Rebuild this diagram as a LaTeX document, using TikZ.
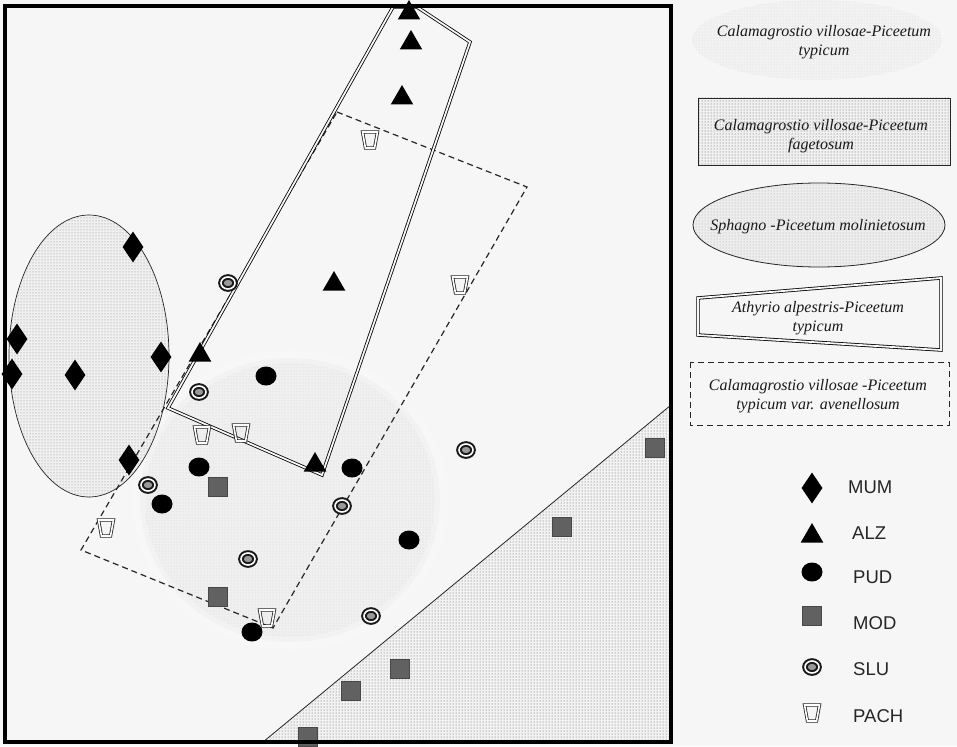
\documentclass[tikz,border=0pt]{standalone}
\usepackage{fontspec}
\setmainfont{Liberation Serif}
\newfontfamily\lsans{Liberation Sans}
\usetikzlibrary{shapes.geometric,patterns}
\definecolor{bg}{RGB}{246,246,246}
\begin{document}
\begin{tikzpicture}[x=1pt,y=-1pt,
  mum/.style={diamond,fill=black,inner sep=0pt,minimum width=21pt,minimum height=31pt},
  alz/.style={regular polygon,regular polygon sides=3,fill=black,inner sep=0pt,minimum size=26pt},
  pud/.style={ellipse,fill=black,inner sep=0pt,minimum width=21pt,minimum height=19pt},
  mod/.style={rectangle,fill=black!62,draw=black!72,line width=0.6pt,inner sep=0pt,minimum size=19pt},
  slu/.style={ellipse,draw=black!90,line width=2pt,double=white,double distance=1.6pt,fill=black!40,inner sep=0pt,minimum width=14pt,minimum height=12pt},
  pach/.style={trapezium,trapezium left angle=72,trapezium right angle=72,trapezium stretches=true,shape border rotate=180,draw=black!85,line width=0.8pt,double=white,double distance=1.6pt,inner sep=1pt,minimum width=15pt,minimum height=16pt},
  legtext/.style={font=\fontsize{16}{19}\selectfont\itshape,align=center,inner sep=0pt,text=black!90},
  symtext/.style={font=\lsans\fontsize{18.5}{20}\selectfont,anchor=west,inner sep=0pt,text=black!85},
  dotfill/.style={pattern=dots,pattern color=black!65},
  dbl/.style={draw=black,line width=0.8pt,double=bg,double distance=1.8pt},
  dsh/.style={draw=black!85,line width=1.2pt,dash pattern=on 6pt off 4pt},
]
% background
\fill[bg] (0,0) rectangle (957,746);
\useasboundingbox (0,0) rectangle (957,746);

% ---- plot regions ----
% Calamagrostio villosae-Piceetum typicum (diffuse)
\fill[black!3] (290,500) ellipse [x radius=158, y radius=150];
\fill[black!5] (290,500) ellipse [x radius=150, y radius=142];
\fill[black!6] (290,500) ellipse [x radius=145, y radius=137];
\fill[pattern=dots,pattern color=black!18] (290,500) ellipse [x radius=145, y radius=137];
% Sphagno ellipse
\fill[black!6] (89,356) ellipse [x radius=80, y radius=141];
\fill[pattern=dots,pattern color=black!50] (89,356) ellipse [x radius=80, y radius=141];
\draw[black!85,line width=0.7pt] (89,356) ellipse [x radius=80, y radius=141];
% fagetosum triangle
\fill[black!5] (263,742) -- (671,405) -- (671,742) -- cycle;
\fill[dotfill] (263,742) -- (671,405) -- (671,742) -- cycle;
\draw[black!85,line width=0.8pt] (263,742) -- (671,405);
% avenellosum dashed rectangle
\draw[dsh] (337,112) -- (527,187) -- (273,628) -- (81,550) -- cycle;
% Athyrio polygon
\draw[dbl] (393,7) -- (417,7) -- (470,42) -- (322,475) -- (168,408) -- cycle;

% ---- markers ----
\node[mum] (m1) at (133,247) {};
\node[mum] (m2) at (17,339) {};
\node[mum] (m3) at (161,357) {};
\node[mum] (m4) at (12,374) {};
\node[mum] (m5) at (75,375) {};
\node[mum] (m6) at (129,460) {};

\node[alz] (a1) at (409,13) {};
\node[alz] (a2) at (411,43) {};
\node[alz] (a3) at (402,98) {};
\node[alz] (a4) at (334,284) {};
\node[alz] (a5) at (200,355) {};
\node[alz] (a6) at (315,465) {};

\node[pud] (p1) at (266,376) {};
\node[pud] (p2) at (199,467) {};
\node[pud] (p3) at (162,504) {};
\node[pud] (p4) at (352,468) {};
\node[pud] (p5) at (409,540) {};
\node[pud] (p6) at (252,632) {};

\node[mod] (d1) at (218,487) {};
\node[mod] (d2) at (218,597) {};
\node[mod] (d3) at (562,527) {};
\node[mod] (d4) at (655,448) {};
\node[mod] (d5) at (400,669) {};
\node[mod] (d6) at (351,691) {};
\node[mod] (d7) at (308,737) {};

\node[slu] (s1) at (228,283) {};
\node[slu] (s2) at (199,392) {};
\node[slu] (s3) at (148,485) {};
\node[slu] (s4) at (466,450) {};
\node[slu] (s5) at (342,506) {};
\node[slu] (s6) at (248,559) {};
\node[slu] (s7) at (371,616) {};

\node[pach] (h1) at (370,140) {};
\node[pach] (h2) at (460,285) {};
\node[pach] (h3) at (202,435) {};
\node[pach] (h4) at (241,433) {};
\node[pach] (h5) at (106,528) {};
\node[pach] (h6) at (267,618) {};

% frame
\draw[black,line width=4pt] (5,6) rectangle (671,742);

% ---- legend ----
\fill[black!5] (817,40) ellipse [x radius=125, y radius=40];
\fill[pattern=dots,pattern color=black!15] (817,40) ellipse [x radius=125, y radius=40];
\node[legtext] (l1) at (824,42) {Calamagrostio villosae-Piceetum\\typicum};

\fill[black!6] (698,98) rectangle (950,165);
\fill[dotfill] (698,98) rectangle (950,165);
\draw[black!85,line width=0.8pt] (698,98) rectangle (950,165);
\node[legtext] (l2) at (821,136) {Calamagrostio villosae-Piceetum\\fagetosum};

\fill[black!7] (819,225) ellipse [x radius=126, y radius=42];
\fill[pattern=dots,pattern color=black!35] (819,225) ellipse [x radius=126, y radius=42];
\draw[black!85,line width=0.8pt] (819,225) ellipse [x radius=126, y radius=42];
\node[legtext] (l3) at (818,227) {Sphagno -Piceetum molinietosum};

\draw[dbl] (698,298) -- (941,278) -- (941,350) -- (698,335) -- cycle;
\node[legtext] (l4) at (818,318) {Athyrio alpestris-Piceetum\\typicum};

\draw[dsh,line width=1pt] (690,362) rectangle (949,425);
\node[legtext] (l5) at (818,396) {Calamagrostio villosae -Piceetum\\typicum var. avenellosum};

\node[mum] (km) at (812,488) {};
\node[alz] (ka) at (812,536) {};
\node[pud] (kp) at (812,572) {};
\node[mod] (kd) at (812,616) {};
\node[slu] (ks) at (812,667) {};
\node[pach] (kh) at (812,713) {};
\node[symtext] (tm) at (848,487) {MUM};
\node[symtext] (ta) at (852,533) {ALZ};
\node[symtext] (tp) at (853,577) {PUD};
\node[symtext] (td) at (853,623) {MOD};
\node[symtext] (ts) at (853,669) {SLU};
\node[symtext] (th) at (853,716) {PACH};
\end{tikzpicture}
\end{document}
